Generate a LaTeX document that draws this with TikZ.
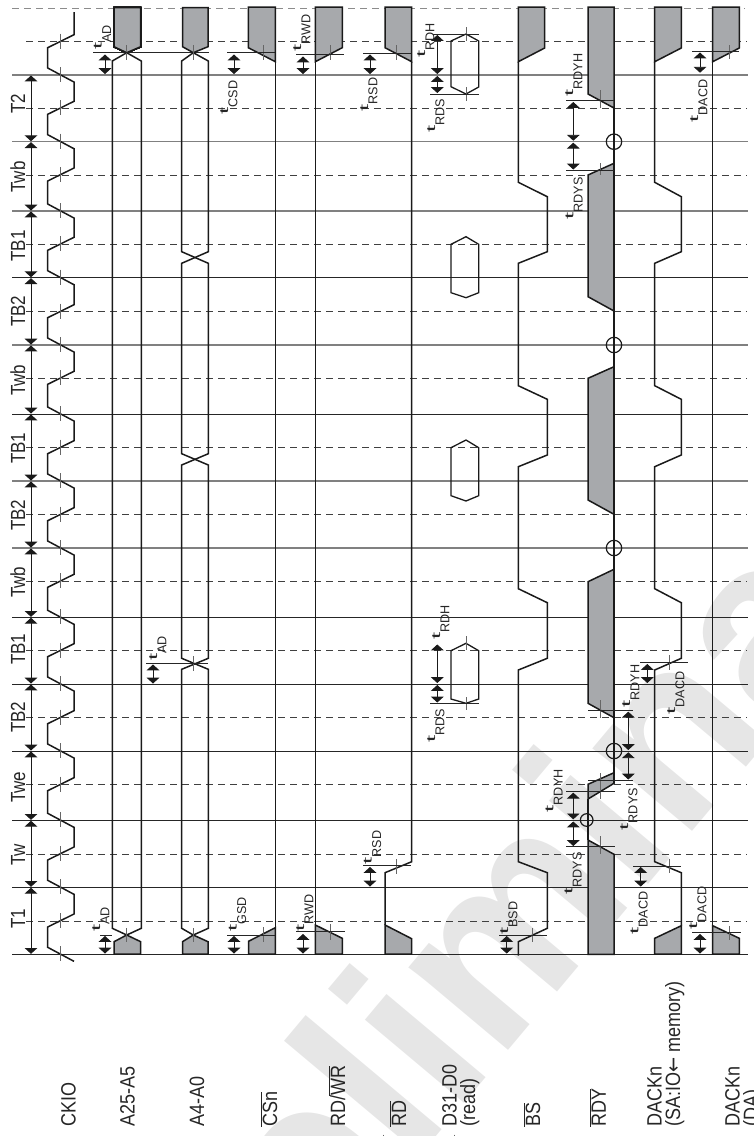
\documentclass[tikz,border=0pt]{standalone}
\usepackage{fontspec}
\setmainfont{Liberation Sans}
\newfontfamily\arrowfont{DejaVu Sans}
\usetikzlibrary{arrows.meta}
\definecolor{fillgray}{HTML}{A7A9AC}
\definecolor{wm}{HTML}{E6E6E6}
\definecolor{ink}{HTML}{1A1A1A}
\newcommand\tsub[1]{\scalebox{1.7}[0.8]{\fontsize{15}{15}\selectfont t}\kern0.3pt\raisebox{-9.4pt}{\scalebox{1}[1.02]{\fontsize{12.6}{12.6}\selectfont #1}}}
\newcommand\sgn[1]{\scalebox{1}[1.15]{\fontsize{18}{18}\selectfont #1}}
\newcommand\per[1]{\scalebox{1}[1.2]{\fontsize{17}{17}\selectfont #1}}
\newcommand\ovl[1]{$\overline{\mbox{#1}}$}
\tikzset{
  gridsoft/.style={draw=black!50,line width=1.2pt},
  gridhard/.style={draw=black!85,line width=0.9pt},
  griddash/.style={draw=black!75,line width=0.9pt,dash pattern=on 7pt off 5pt},
  sig/.style={draw=ink,line width=1.5pt,line join=miter},
  hatchbox/.style={sig,fill=fillgray},
  tick/.style={draw=black!60,line width=0.8pt},
  meas/.style={draw=black!85,line width=0.8pt},
  dim/.style={draw=ink,line width=0.8pt,{Triangle[width=12.6pt,length=5.8pt]}-{Triangle[width=12.6pt,length=5.8pt]}},
  lab/.style={inner sep=0pt,anchor=base west,rotate=90,text=black!85},
  ring/.style={draw=ink,line width=1.2pt}
}
\newcommand\tk[3]{\draw[tick] (#1,#2) -- (#1,#3);}
\newcommand\hl[3]{\draw[meas] (#1,#3) -- (#2,#3);}
\newcommand\dm[3]{\draw[dim] (#1,#2) -- (#1,#3);}
\begin{document}
\begin{tikzpicture}[x=1pt,y=-1pt]
\useasboundingbox (0,0) rectangle (754,1136);
\clip (0,0) rectangle (754,1136);
% watermark
\node[rotate=50,inner sep=0pt,text=wm,anchor=base west,font=\bfseries\fontsize{245}{245}\selectfont] (wmark) at (155.7,1471) {Preliminary};
% grid
\foreach \y in {75,141.7,211,345,481,548} \draw[gridsoft] (12,\y) -- (748,\y);
\foreach \y in {277.7,414,617.3,684,751,820.3,887.3,954.3} \draw[gridhard] (12,\y) -- (748,\y);
\foreach \y in {41.7,108.3,175,244.3,311.7,378.3,447.7,514.7,581.3,650.7,717.7,784.7,854,921} \draw[griddash] (26,\y) -- (747,\y);
\draw[griddash,draw=black!45] (12,8) -- (745,8);
% period arrows
\foreach \p/\q in {75/141.7,141.7/211,211/277.7,277.7/345,345/414,414/481,481/548,548/617.3,617.3/684,684/751,751/820.3,820.3/887.3,887.3/954.3} \draw[dim] (31,\p+0.5) -- (31,\q-0.5);
\foreach \n/\t/\y in {p1/T2/114,p2/Twb/192.7,p3/TB1/261.7,p4/TB2/327,p5/Twb/396,p6/TB1/464,p7/TB2/531,p8/Twb/598,p9/TB1/665,p10/TB2/733,p11/Twe/803,p12/Tw/865.7,p13/T1/929}
  \node[lab] (\n) at (25,\y) {\per{\t}};
% CKIO
\draw[sig] (74,12) \foreach \p/\q in {41.7/75,108.3/141.7,175/211,244.3/277.7,311.7/345,378.3/414,447.7/481,514.7/548,581.3/617.3,650.7/684,717.7/751,784.7/820.3,854/887.3,921/954.3} { -- (74,\p-7) -- (47.7,\p+6) -- (47.7,\q-7) -- (73,\q+6.5)  -- (74,\q+7) };
\foreach \y in {41.7,75,108.3,141.7,175,211,244.3,277.7,311.7,345,378.3,414,447.7,481,514.7,548,581.3,617.3,650.7,684,717.7,751,784.7,820.3,854,887.3,921,954.3} \tk{60}{\y-8}{\y+7}
% A25-A5
\draw[hatchbox] (114,7.7) -- (140.7,7.7) -- (140.7,46.7) -- (126.7,52.7) -- (114,46.7) -- cycle;
\draw[hatchbox] (114,954) -- (140.7,954) -- (140.7,941.7) -- (126.7,935) -- (114,941.7) -- cycle;
\draw[sig] (126.7,52.7) -- (112.3,61) -- (112.3,928.3) -- (126.7,935);
\draw[sig] (126.7,52.7) -- (141.3,61) -- (141.3,928.3) -- (126.7,935);
\tk{126.7}{45}{60}\tk{126.7}{928}{942}
\hl{93}{208.5}{52.7}\hl{100}{112}{935}
\dm{105}{54.5}{74}\dm{105}{936}{953.5}
\node[lab] (ad1) at (101.7,50) {\tsub{AD}};
\node[lab] (ad2) at (100,932) {\tsub{AD}};
% A4-A0
\draw[hatchbox] (182.5,7.7) -- (208,7.7) -- (208,46.7) -- (193.3,52.7) -- (182.5,46.7) -- cycle;
\draw[hatchbox] (182.5,954) -- (208,954) -- (208,941.7) -- (193.3,935) -- (182.5,941.7) -- cycle;
\draw[sig] (193.3,52.7) -- (181.7,61) -- (181.7,251.7) -- (208.3,263.3) -- (208.3,453.7) -- (181.7,465) -- (181.7,658.3) -- (208.3,669.3) -- (208.3,928.3) -- (193.3,935);
\draw[sig] (193.3,52.7) -- (208.3,61) -- (208.3,251.7) -- (181.7,263.3) -- (181.7,453.7) -- (208.3,465) -- (208.3,658.3) -- (181.7,669.3) -- (181.7,928.3) -- (193.3,935);
\tk{193.3}{45}{60}\tk{193.3}{656}{671}\tk{193.3}{928}{942}
\hl{146}{208}{663.3}
\dm{153}{664.5}{683.5}
\node[lab] (ad3) at (157,661) {\tsub{AD}};
% CSn
\draw[hatchbox] (248.3,7) -- (275.3,7) -- (275.3,61.7) -- (248.3,47.7) -- cycle;
\draw[hatchbox] (248.5,954) -- (275.3,954) -- (275.3,927.7) -- (248.5,941.3) -- cycle;
\draw[sig] (275.3,61.7) -- (275.3,927.7);
\tk{263}{45}{60}\tk{263}{927}{942}
\hl{227}{275}{52.7}\hl{227}{275}{935}
\dm{234}{54.5}{74}\dm{234}{936}{953.5}
\node[lab] (csd1) at (228,115) {\tsub{CSD}};
\node[lab] (csd2) at (236.7,932) {\tsub{GSD}};
% RD/WR
\draw[hatchbox] (315.3,7) -- (342.3,7) -- (342.3,47.7) -- (315.3,61.7) -- cycle;
\draw[hatchbox] (315.3,954) -- (342.3,954) -- (342.3,938.3) -- (315.3,925) -- cycle;
\draw[sig] (315.3,61.7) -- (315.3,925);
\tk{330}{45}{60}\tk{330}{924}{940}
\hl{296}{344}{54.7}\hl{296}{345}{931.7}
\dm{303}{56.5}{74}\dm{303}{934}{953.5}
\node[lab] (rwd1) at (301,52) {\tsub{RWD}};
\node[lab] (rwd2) at (304,931.7) {\tsub{RWD}};
% RD
\draw[hatchbox] (385,7) -- (411.7,7) -- (411.7,61.7) -- (385,47.7) -- cycle;
\draw[hatchbox] (385,954) -- (411.7,954) -- (411.7,938.7) -- (385,925) -- cycle;
\draw[sig] (411.7,61.7) -- (411.7,861.7) -- (385,872.7) -- (385,925);
\tk{396.7}{45}{60}\tk{396.7}{859}{874}
\hl{363}{411}{53}\hl{363}{411}{865.7}
\dm{370}{54.5}{74}\dm{370}{867}{886.5}
\node[lab] (rsd1) at (368,112) {\tsub{RSD}};
\node[lab] (rsd2) at (371.7,865) {\tsub{RSD}};
% D31-D0
\draw[sig,line width=1.3pt] (466,34) -- (478.7,41) -- (478.7,87) -- (466,94) -- (451,86.7) -- (451,41) -- cycle;
\draw[sig,line width=1.3pt] (466,236.7) -- (478.7,244.3) -- (478.7,292.7) -- (466,297.7) -- (451,292.7) -- (451,244.3) -- cycle;
\draw[sig,line width=1.3pt] (466,440) -- (478.7,447.7) -- (478.7,495.7) -- (466,501) -- (451,495.7) -- (451,447.7) -- cycle;
\draw[sig,line width=1.3pt] (466,643.3) -- (478.7,650.7) -- (478.7,699) -- (466,703.3) -- (451,699) -- (451,650.7) -- cycle;
\tk{466}{27}{41}\tk{466}{87}{101}\tk{466}{636}{650}\tk{466}{697}{710}
\hl{433}{479}{34}\hl{430}{479}{94}\hl{430}{479}{703.3}
\dm{437.3}{35}{74}\dm{437.3}{76}{93}\dm{437.3}{644.5}{683}\dm{437.3}{685}{702.5}
\node[lab] (rdh1) at (425,58) {\tsub{RDH}};
\node[lab] (rds1) at (435,133) {\tsub{RDS}};
\node[lab] (rdh2) at (440,640) {\tsub{RDH}};
\node[lab] (rds2) at (435,743) {\tsub{RDS}};
% BS
\draw[hatchbox] (518.3,7) -- (544.7,7) -- (544.7,48) -- (518.3,61.7) -- cycle;
\draw[sig] (518.3,61.7) -- (518.3,182.3) -- (547.3,196.7) -- (547.3,251.7) -- (518.3,263.3) -- (518.3,385.7) -- (547.3,399.3) -- (547.3,455) -- (518.3,466.7) -- (518.3,588.7) -- (547.3,602.7) -- (547.3,658.3) -- (518.3,670) -- (518.3,861.7) -- (547.3,872.7) -- (547.3,928.3) -- (518.3,941.7) -- (518.3,955.7);
\tk{532.7}{928}{942}
\hl{499}{547}{935}
\dm{506.7}{936}{953.5}
\node[lab] (bsd) at (508,935) {\tsub{BSD}};
% RDY
\draw[hatchbox] (588,7) -- (614,7) -- (614,108) -- (588,94) -- cycle;
\draw[hatchbox] (614,163.3) -- (588,175) -- (588,296.7) -- (614,311) -- cycle;
\draw[hatchbox] (614,366.7) -- (588,378.3) -- (588,500) -- (614,514.3) -- cycle;
\draw[hatchbox] (614,569.3) -- (588,581.7) -- (588,703.3) -- (614,717.7) -- cycle;
\draw[hatchbox] (614,772.7) -- (588,784.3) -- (588,799) -- (614,783.3) -- cycle;
\draw[hatchbox] (588,840) -- (614,854.3) -- (614,954.3) -- (588,954.3) -- cycle;
\draw[sig] (614,108) -- (614,783.3);
\draw[sig] (588,799) -- (588,840);
\draw[ring] (614,141.7) circle[radius=7.7pt];
\draw[ring] (614,345) circle[radius=7.7pt];
\draw[ring] (614,548) circle[radius=7.7pt];
\draw[ring] (614,751) circle[radius=7.7pt];
\draw[ring] (586.7,820) circle[radius=6.3pt];
\tk{600}{90}{108}\tk{600}{163}{175}\tk{600}{700}{718}\tk{600}{773}{799}\tk{600}{836}{854}
\hl{566}{614}{100.7}\hl{566}{614}{170}
\hl{588}{633}{710}\hl{588}{633}{780}
\hl{566}{615}{791.7}\hl{566}{615}{846.7}
\dm{573.3}{102}{140.7}\dm{573.3}{142.7}{169.5}
\dm{628.3}{711.7}{750}\dm{628.3}{752.3}{779.5}
\dm{573.3}{792.7}{819.3}\dm{573.3}{821.5}{846}
\node[lab] (rdyh1) at (573,97) {\tsub{RDYH}};
\node[lab] (rdys1) at (573.3,220) {\tsub{RDYS}};
\node[lab] (rdyh2) at (630,708) {\tsub{RDYH}};
\node[lab] (rdys2) at (628,830.7) {\tsub{RDYS}};
\node[lab] (rdyh3) at (553.3,812.7) {\tsub{RDYH}};
\node[lab] (rdys3) at (572.3,895) {\tsub{RDYS}};
% DACKn (SA:IO)
\draw[hatchbox] (654.7,7) -- (681.3,7) -- (681.3,48) -- (654.7,61.7) -- cycle;
\draw[hatchbox] (654.7,954) -- (681.3,954) -- (681.3,925.7) -- (654.7,938.3) -- cycle;
\draw[sig] (654.7,61.7) -- (654.7,182.3) -- (681.3,196.7) -- (681.3,251.7) -- (654.7,263.3) -- (654.7,385.7) -- (681.3,399.3) -- (681.3,455) -- (654.7,466.7) -- (654.7,588.7) -- (681.3,602.7) -- (681.3,658.3) -- (654.7,670) -- (654.7,861.7) -- (681.3,872.7) -- (681.3,925.7);
\tk{669.3}{655}{670}\tk{669.3}{859}{873}
\hl{640}{688}{662.7}\hl{633}{681}{866}
\dm{647.3}{664}{683}\dm{640.7}{867}{886.5}
\node[lab] (dacd1) at (675,715) {\tsub{DACD}};
\node[lab] (dacd2) at (638.3,935) {\tsub{DACD}};
% DACKn (DA)
\draw[hatchbox] (712.7,7) -- (739.3,7) -- (739.3,48) -- (712.7,61.7) -- cycle;
\draw[hatchbox] (712.7,954) -- (739.3,954) -- (739.3,938.3) -- (712.7,925.7) -- cycle;
\draw[sig] (712.7,61.7) -- (712.7,925.7);
\tk{729.3}{45}{59}\tk{729.3}{926}{940}
\hl{692}{739}{51}\hl{692}{741}{932.3}
\dm{700}{52.5}{72.7}\dm{700}{934}{953.5}
\node[lab] (dacd3) at (698,122.7) {\tsub{DACD}};
\node[lab] (dacd4) at (697,930) {\tsub{DACD}};
% signal names
\node[lab] (s1) at (75.5,1127) {\sgn{CKIO}};
\node[lab] (s2) at (134.6,1127) {\sgn{A25-A5}};
\node[lab] (s3) at (204,1127) {\sgn{A4-A0}};
\node[lab] (s4) at (277,1127) {\sgn{\ovl{CSn}}};
\node[lab] (s5) at (345,1127) {\sgn{RD/\ovl{WR}}};
\node[lab] (s6) at (406,1127) {\sgn{\ovl{RD}}};
\node[lab] (s7) at (456.5,1127) {\sgn{D31-D0}};
\node[lab] (s7b) at (475,1127) {\sgn{(read)}};
\node[lab] (s8) at (540,1127) {\sgn{\ovl{BS}}};
\node[lab] (s9) at (605.8,1127) {\sgn{\ovl{RDY}}};
\node[lab] (s10) at (661.5,1127) {\sgn{DACKn}};
\node[lab] (s10b) at (680,1127) {\sgn{(SA:IO{\arrowfont ←} memory)}};
\node[lab] (s11) at (739.5,1127) {\sgn{DACKn}};
\node[lab] (s11b) at (758,1127) {\sgn{(DA)}};
\tk{383}{1134.5}{1136}\tk{454}{1134.5}{1136}
\end{tikzpicture}
\end{document}
